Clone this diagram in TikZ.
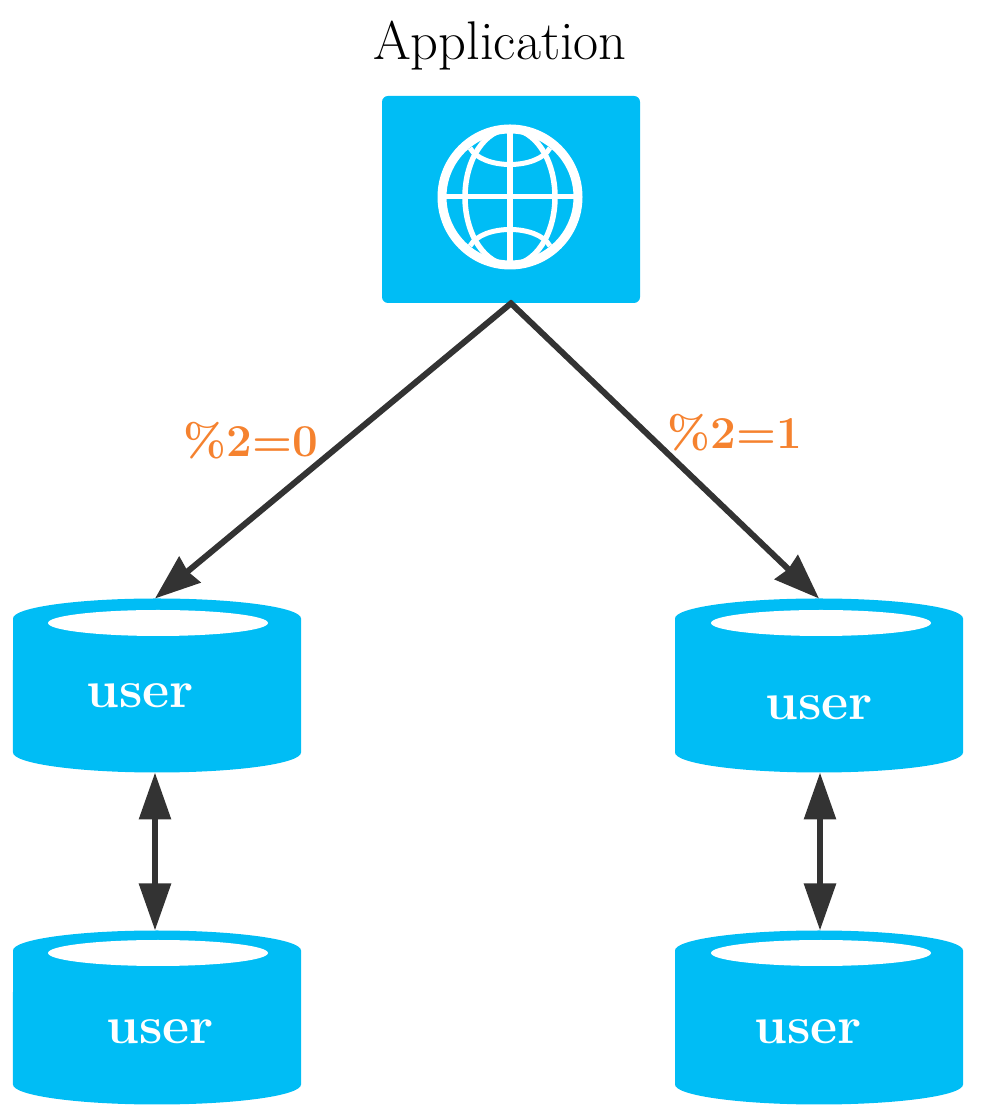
\documentclass[tikz,border=0pt]{standalone}
\usetikzlibrary{arrows.meta}
\definecolor{dbblue}{HTML}{00BDF5}
\definecolor{linkgray}{HTML}{333333}
\definecolor{labelorange}{HTML}{F5822F}
\tikzset{
  dbnode/.style={rectangle,minimum width=5.76cm,minimum height=3.48cm,inner sep=0pt,outer sep=0pt},
  dbtext/.style={text=white,font=\fontsize{30}{30}\selectfont\bfseries},
  ratiotext/.style={text=labelorange,font=\fontsize{26}{26}\selectfont\bfseries},
  hashlink/.style={draw=linkgray,line width=0.12cm,-{Stealth[length=0.9cm,width=0.66cm,inset=0.05cm]},shorten <=-0.04cm},
  copylink/.style={draw=linkgray,line width=0.12cm,{Triangle[length=0.94cm,width=0.62cm]}-{Triangle[length=0.94cm,width=0.62cm]}}
}
% Cylinder body round a named node
\newcommand{\dbbody}[1]{\fill [dbblue] ([yshift=-0.40cm]#1.north west) arc (180:0:2.88 and 0.40) -- ([yshift=0.40cm]#1.south east) arc (0:-180:2.88 and 0.40) -- cycle;}
\begin{document}
\begin{tikzpicture}
    \useasboundingbox (0,0) rectangle (19.68,22.40);

    % Title and application box
    \node (apptitle) at (10.00,21.48) [font=\fontsize{31}{31}\selectfont] {Application};
    \node (appbox) at (10.22,18.41) [fill=dbblue,rounded corners=0.12cm,minimum width=5.16cm,minimum height=4.14cm,inner sep=0pt] {};

    % Globe on the application box
    \draw [white,line width=0.18cm] (10.20,18.46) circle (1.36);
    \draw [white,line width=0.11cm] (10.20,18.46) ellipse (0.90 and 1.36);
    \draw [white,line width=0.12cm] (10.20,17.10) -- (10.20,19.82);
    \draw [white,line width=0.10cm] (8.84,18.46) -- (11.56,18.46);
    \draw [white,line width=0.10cm] (9.40,19.44) .. controls (9.65,19.00) and (10.75,19.00) .. (11.00,19.44);
    \draw [white,line width=0.10cm] (9.40,17.48) .. controls (9.65,17.92) and (10.75,17.92) .. (11.00,17.48);

    % Upper left database
    \node (dbleft) at (3.14,8.69) [dbnode] {};
    \dbbody{dbleft}
    \fill [white] (3.16,9.94) ellipse (2.20 and 0.26);
    \node (userleft) at (2.80,8.48) [dbtext] {user};

    % Upper right database
    \node (dbright) at (16.38,8.69) [dbnode] {};
    \dbbody{dbright}
    \fill [white] (16.42,9.94) ellipse (2.20 and 0.26);
    \node (userright) at (16.38,8.24) [dbtext] {user};

    % Lower left database
    \node (dbleftcopy) at (3.14,2.05) [dbnode] {};
    \dbbody{dbleftcopy}
    \fill [white] (3.16,3.34) ellipse (2.20 and 0.26);
    \node (userleftcopy) at (3.20,1.76) [dbtext] {user};

    % Lower right database
    \node (dbrightcopy) at (16.38,2.05) [dbnode] {};
    \dbbody{dbrightcopy}
    \fill [white] (16.42,3.34) ellipse (2.20 and 0.26);
    \node (userrightcopy) at (16.16,1.76) [dbtext] {user};

    % Links from the application
    \draw [hashlink] (appbox.south) -- ([xshift=-0.04cm]dbleft.north);
    \draw [hashlink] (appbox.south) -- (dbright.north);
    \node (ratioleft) at (5.02,13.58) [ratiotext] {\%2=0};
    \node (ratioright) at (14.70,13.74) [ratiotext] {\%2=1};

    % Links between the databases
    \draw [copylink] ([xshift=-0.04cm]dbleft.south) -- ([xshift=-0.04cm]dbleftcopy.north);
    \draw [copylink] ([xshift=0.02cm]dbright.south) -- ([xshift=0.02cm]dbrightcopy.north);
\end{tikzpicture}
\end{document}
